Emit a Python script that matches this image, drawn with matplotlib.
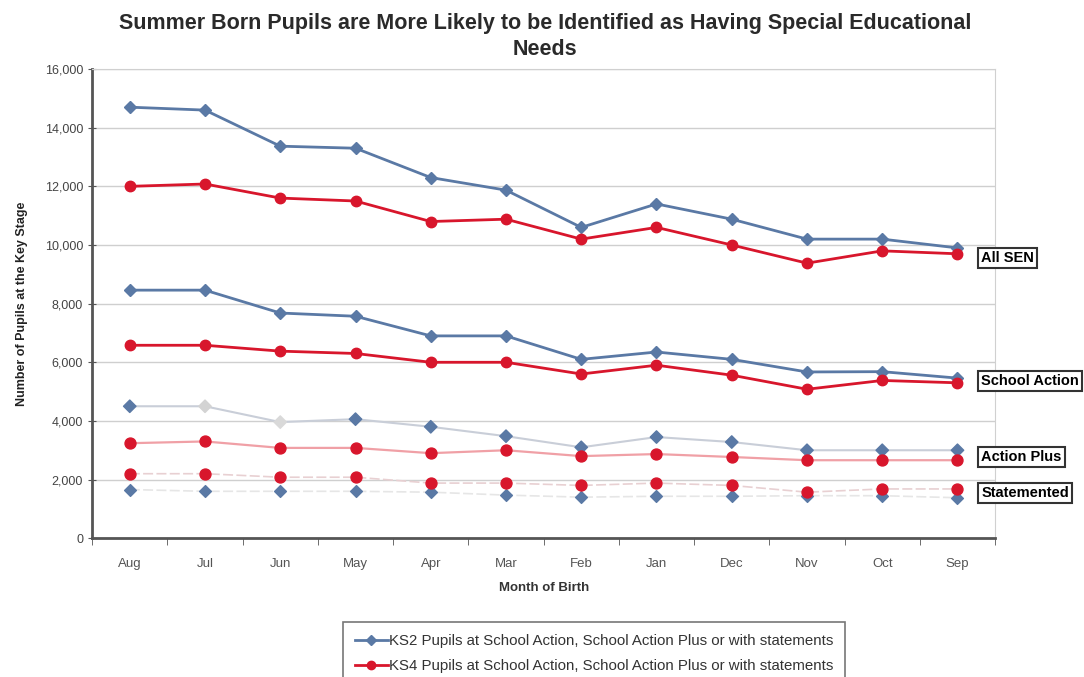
import numpy as np
import matplotlib
matplotlib.use('Agg')
import matplotlib.pyplot as plt
from matplotlib.lines import Line2D

plt.rcParams['font.family'] = ['Liberation Sans', 'DejaVu Sans']

months = ['Aug', 'Jul', 'Jun', 'May', 'Apr', 'Mar',
          'Feb', 'Jan', 'Dec', 'Nov', 'Oct', 'Sep']

# KS2 pupils by SEN category
ks2_all_sen = [14700, 14600, 13370, 13300, 12300, 11870,
               10600, 11400, 10880, 10200, 10200, 9900]
ks2_school_action = [8460, 8460, 7680, 7570, 6900, 6900,
                     6100, 6350, 6100, 5670, 5680, 5460]
ks2_action_plus = [4500, 4500, 3960, 4060, 3800, 3480,
                   3100, 3450, 3280, 3000, 3000, 3000]
ks2_statemented = [1660, 1600, 1600, 1600, 1570, 1470,
                   1400, 1430, 1430, 1450, 1450, 1380]

# KS4 pupils by SEN category
ks4_all_sen = [12000, 12080, 11600, 11500, 10800, 10880,
               10200, 10600, 10000, 9380, 9800, 9700]
ks4_school_action = [6580, 6580, 6380, 6300, 6000, 6000,
                     5600, 5900, 5560, 5080, 5380, 5300]
ks4_action_plus = [3240, 3300, 3080, 3080, 2900, 3000,
                   2800, 2870, 2770, 2660, 2660, 2660]
ks4_statemented = [2200, 2200, 2080, 2080, 1880, 1880,
                   1800, 1880, 1800, 1570, 1680, 1680]

group_labels = ['All SEN', 'School Action', 'Action Plus', 'Statemented']
label_values = [9550, 5360, 2760, 1540]

BLUE = '#5a79a5'
RED = '#d8162c'

fig = plt.figure(figsize=(10.84, 6.77), dpi=100)
ax = fig.add_axes([0.085, 0.205, 0.833, 0.693])

x = np.arange(len(months))

# strong lines for the two upper groups
for ys in (ks2_all_sen, ks2_school_action):
    ax.plot(x, ys, color=BLUE, lw=2, marker='D', ms=6, zorder=4)
for ys in (ks4_all_sen, ks4_school_action):
    ax.plot(x, ys, color=RED, lw=2, marker='o', ms=7.5, zorder=5)

# faint lines for the two lower groups
ax.plot(x, ks2_action_plus, color='#c9ced8', lw=1.5, zorder=2)
ap_colors = [BLUE, '#d3d3d3', '#d9d9d9'] + [BLUE] * 9
ax.scatter(x, ks2_action_plus, marker='D', s=40, c=ap_colors, zorder=4)
ax.plot(x, ks4_action_plus, color='#f0a0a6', lw=1.6, zorder=3)
ax.scatter(x, ks4_action_plus, marker='o', s=62, c=RED, zorder=5)

ax.plot(x, ks2_statemented, color='#e6e6e6', lw=1.2, ls=(0, (6, 2)), zorder=2)
ax.scatter(x, ks2_statemented, marker='D', s=36, c=BLUE, zorder=4)
ax.plot(x, ks4_statemented, color='#e8d0d2', lw=1.2, ls=(0, (6, 2)), zorder=2)
ax.scatter(x, ks4_statemented, marker='o', s=62, c=RED, zorder=5)

ax.set_xlim(-0.5, len(months) - 0.5)
ax.set_ylim(0, 16000)
ax.set_yticks(np.arange(0, 16001, 2000))
ax.set_yticklabels([f'{v:,}' for v in range(0, 16001, 2000)])
ax.set_xticks(x)
ax.set_xticklabels(months)
ax.set_xticks(np.arange(-0.5, len(months)), minor=True)
ax.tick_params(axis='x', which='major', length=0, pad=14,
               labelsize=9.5, labelcolor='#555555')
ax.tick_params(axis='x', which='minor', length=5, color='#555555',
               direction='out')
ax.tick_params(axis='y', length=6, color='#555555', direction='inout',
               labelsize=9, labelcolor='#444444')

ax.grid(axis='y', color='#cfcfcf', lw=1)
ax.set_axisbelow(True)
for side in ('top', 'right'):
    ax.spines[side].set_color('#d0d0d0')
for side in ('left', 'bottom'):
    ax.spines[side].set_color('#555555')
    ax.spines[side].set_linewidth(2)

ax.set_xlabel('Month of Birth', fontsize=9.5, fontweight='bold',
              color='#333333', labelpad=9)
ax.set_ylabel('Number of Pupils at the Key Stage', fontsize=9,
              fontweight='bold', color='#222222', labelpad=12)

fig.text(0.503, 0.946,
         'Summer Born Pupils are More Likely to be Identified as Having Special Educational\nNeeds',
         ha='center', va='center', fontsize=15.5, fontweight='heavy',
         color='#2a2a2a', linespacing=1.3)

# boxed group labels at the right-hand end of each pair of lines
for text, yv in zip(group_labels, label_values):
    ax.annotate(text, xy=(1.0, yv), xycoords=('axes fraction', 'data'),
                xytext=(-10, 0), textcoords='offset points',
                ha='left', va='center', fontsize=10.5, fontweight='bold',
                annotation_clip=False,
                bbox=dict(boxstyle='square,pad=0.2', fc='white',
                          ec='#333333', lw=1.5))

handles = [
    Line2D([], [], color=BLUE, lw=2, marker='D', ms=5),
    Line2D([], [], color=RED, lw=2, marker='o', ms=6),
]
labels = ['KS2 Pupils at School Action, School Action Plus or with statements',
          'KS4 Pupils at School Action, School Action Plus or with statements']
leg = fig.legend(handles, labels, loc='upper center',
                 bbox_to_anchor=(0.548, 0.081), fontsize=10.8,
                 frameon=True, fancybox=False, edgecolor='#555555',
                 handlelength=2.2, handletextpad=0.05, borderpad=0.8,
                 borderaxespad=0, labelspacing=0.75)
for t in leg.get_texts():
    t.set_color('#333333')
leg.get_frame().set_linewidth(1.2)

fig.savefig('out.png', dpi=100)
